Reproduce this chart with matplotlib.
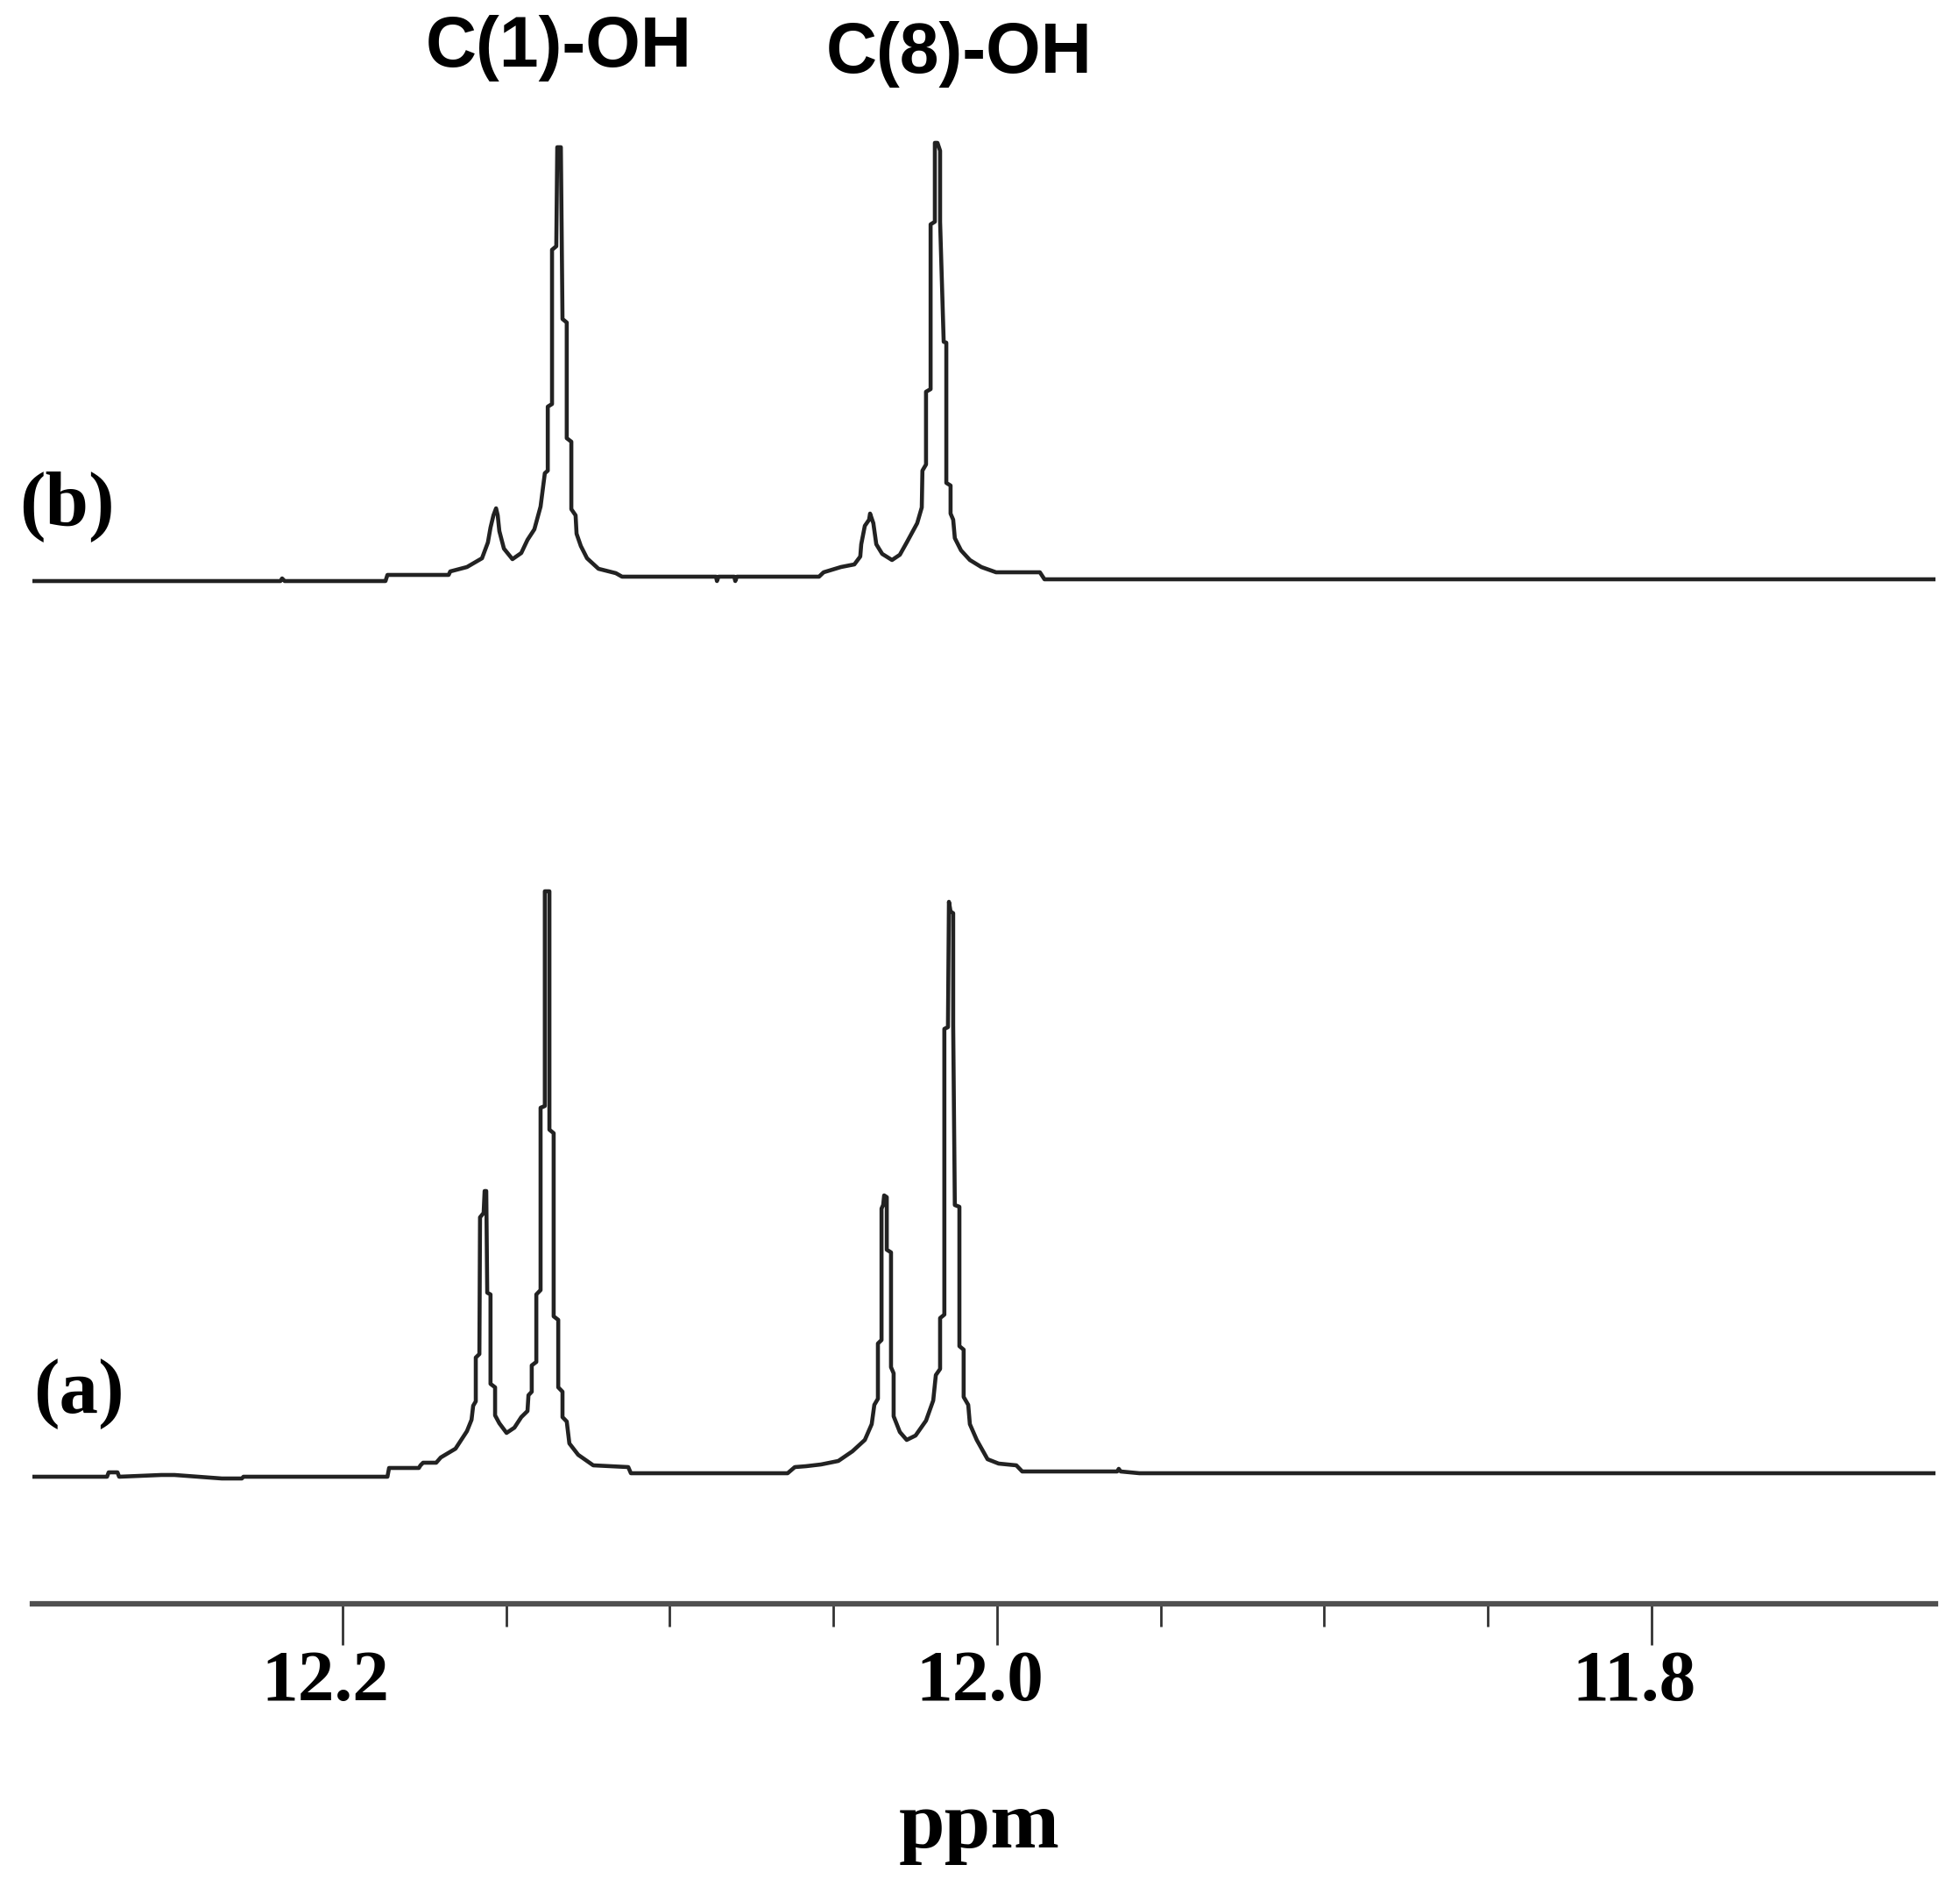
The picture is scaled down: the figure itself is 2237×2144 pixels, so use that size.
import matplotlib.pyplot as plt
from matplotlib.transforms import ScaledTranslation

# trace (b), top spectrum: chemical shift (ppm) and intensity (arb. units)
b_ppm = [12.2945, 12.2190, 12.2185, 12.2177, 12.1869, 12.1863, 12.1676, 12.1671,
         12.1620, 12.1574, 12.1556, 12.1548, 12.1539, 12.1531, 12.1526, 12.1521,
         12.1507, 12.1481, 12.1454, 12.1435, 12.1414, 12.1395, 12.1382, 12.1373,
         12.1373, 12.1360, 12.1360, 12.1347, 12.1344, 12.1333, 12.1328, 12.1315,
         12.1315, 12.1301, 12.1301, 12.1288, 12.1285, 12.1272, 12.1253, 12.1218,
         12.1165, 12.1146, 12.0859, 12.0856, 12.0851, 12.0803, 12.0800, 12.0795,
         12.0544, 12.0530, 12.0477, 12.0436, 12.0418, 12.0415, 12.0404, 12.0391,
         12.0388, 12.0378, 12.0369, 12.0351, 12.0321, 12.0297, 12.0276, 12.0244,
         12.0230, 12.0228, 12.0217, 12.0217, 12.0203, 12.0203, 12.0190, 12.0190,
         12.0182, 12.0174, 12.0174, 12.0163, 12.0155, 12.0155, 12.0142, 12.0142,
         12.0134, 12.0129, 12.0110, 12.0083, 12.0048, 12.0003, 11.9869, 11.9855,
         11.7132]
b_int = [0, 0, 3, 0, 0, 7, 7, 11,
         16, 26, 44, 61, 75, 83, 75, 57,
         37, 25, 32, 47, 59, 85, 123, 126,
         199, 202, 378, 382, 495, 495, 299, 295,
         163, 159, 82, 75, 54, 40, 26, 14,
         9, 5, 5, 0, 5, 5, 0, 5,
         5, 10, 16, 19, 28, 42, 63, 70,
         77, 66, 42, 31, 24, 30, 44, 66,
         84, 126, 133, 216, 219, 407, 410, 500,
         500, 491, 410, 273, 272, 112, 109, 77,
         70, 49, 35, 24, 16, 10, 10, 2,
         2]

# trace (a), bottom spectrum
a_ppm = [12.2950, 12.2720, 12.2715, 12.2688, 12.2683, 12.2554, 12.2514, 12.2369,
         12.2308, 12.2303, 12.1863, 12.1858, 12.1767, 12.1762, 12.1754, 12.1714,
         12.1700, 12.1655, 12.1620, 12.1606, 12.1601, 12.1593, 12.1593, 12.1582,
         12.1580, 12.1569, 12.1566, 12.1561, 12.1558, 12.1548, 12.1548, 12.1534,
         12.1534, 12.1521, 12.1499, 12.1475, 12.1454, 12.1435, 12.1432, 12.1422,
         12.1422, 12.1408, 12.1408, 12.1395, 12.1395, 12.1382, 12.1382, 12.1368,
         12.1368, 12.1355, 12.1355, 12.1341, 12.1341, 12.1328, 12.1328, 12.1315,
         12.1307, 12.1280, 12.1234, 12.1127, 12.1119, 12.0640, 12.0618, 12.0584,
         12.0538, 12.0485, 12.0442, 12.0404, 12.0383, 12.0375, 12.0364, 12.0364,
         12.0353, 12.0353, 12.0348, 12.0345, 12.0337, 12.0337, 12.0324, 12.0324,
         12.0316, 12.0316, 12.0297, 12.0276, 12.0249, 12.0217, 12.0195, 12.0187,
         12.0174, 12.0174, 12.0161, 12.0161, 12.0150, 12.0147, 12.0142, 12.0134,
         12.0134, 12.0129, 12.0115, 12.0115, 12.0102, 12.0102, 12.0088, 12.0083,
         12.0062, 12.0029, 11.9995, 11.9941, 11.9923, 11.9633, 11.9628, 11.9622,
         11.9565, 11.7132]
a_int = [0, 0, 5, 5, 0, 2, 2, -2,
         -2, 0, 0, 10, 10, 13, 16, 16,
         22, 32, 52, 65, 81, 86, 136, 140,
         296, 301, 326, 326, 210, 208, 106, 102,
         70, 61, 50, 56, 68, 75, 93, 97,
         127, 131, 208, 213, 421, 423, 668, 668,
         396, 392, 183, 179, 102, 97, 68, 63,
         38, 25, 13, 11, 4, 4, 11, 12,
         14, 18, 29, 42, 60, 82, 89, 152,
         156, 306, 310, 321, 319, 259, 256, 125,
         118, 69, 51, 42, 47, 64, 87, 116,
         123, 181, 185, 511, 513, 656, 645, 643,
         515, 310, 308, 149, 145, 91, 82, 60,
         42, 20, 15, 13, 6, 6, 9, 6,
         4, 4]

major_ticks = [12.2, 12.0, 11.8]
minor_ticks = [12.15, 12.10, 12.05, 11.95, 11.90, 11.85]
tick_labels = ['12.2', '12.0', '11.8']
peak_names = ['C(1)-OH', 'C(8)-OH']

W, H = 2237, 2144
fig = plt.figure(figsize=(W / 100, H / 100), dpi=100)
ax = fig.add_axes([37 / W, 1 - 1830 / H, (2209 - 37) / W, (1830 - 100) / H])

# vertical offsets of the two stacked spectra
base_a = 145
base_b = 1167
line_col = '#222222'
ax.plot(a_ppm, [v + base_a for v in a_int], color=line_col, lw=3.3)
ax.plot(b_ppm, [v + base_b for v in b_int], color=line_col, lw=3.3)

ax.set_xlim(12.2948, 11.7132)
ax.set_ylim(0, 1730)

for s in ['top', 'left', 'right']:
    ax.spines[s].set_visible(False)
ax.spines['bottom'].set_linewidth(4.5)
ax.spines['bottom'].set_color('#505050')
ax.set_yticks([])

ax.set_xticks(major_ticks)
ax.set_xticklabels(tick_labels)
ax.set_xticks(minor_ticks, minor=True)
ax.tick_params(axis='x', which='major', length=34, width=2, color='#333333', pad=4)
ax.tick_params(axis='x', which='minor', length=19, width=2, color='#333333')
# labels sit a little left of their ticks in the original
shift = ScaledTranslation(-0.2, 0, fig.dpi_scale_trans)
for lbl in ax.get_xticklabels():
    lbl.set_fontfamily('Liberation Serif')
    lbl.set_fontweight('bold')
    lbl.set_fontsize(60)
    lbl.set_transform(lbl.get_transform() + shift)

ax.set_xlabel('ppm', fontfamily='Liberation Serif', fontweight='bold', fontsize=68)
ax.xaxis.label.set_va('baseline')
ax.xaxis.set_label_coords(0.4977, -0.1607)

fig.text(76 / W, 1 - 578 / H, '(b)', ha='center', va='center',
         fontfamily='Liberation Serif', fontweight='bold', fontsize=64)
fig.text(90 / W, 1 - 1591 / H, '(a)', ha='center', va='center',
         fontfamily='Liberation Serif', fontweight='bold', fontsize=64)

fig.text(638 / W, 1 - 55 / H, peak_names[0], ha='center', va='center',
         fontfamily='Liberation Sans', fontweight='bold', fontsize=58)
fig.text(1095 / W, 1 - 62 / H, peak_names[1], ha='center', va='center',
         fontfamily='Liberation Sans', fontweight='bold', fontsize=58)

fig.savefig('out.png', dpi=100, facecolor='white')
